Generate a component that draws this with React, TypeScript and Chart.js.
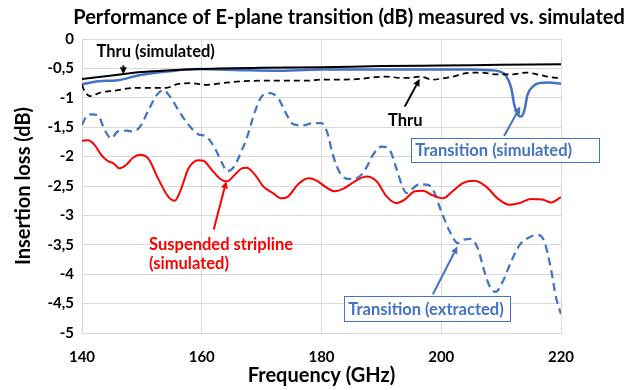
import React, { useEffect, useRef } from 'react';
import { Chart, registerables } from 'chart.js';

Chart.register(...registerables);

const FONT = 'Lato, "Open Sans", sans-serif';
const BLUE = '#4472C4';
const RED = '#FF0000';

// ---- Data (frequency in GHz, insertion loss in dB) ----
const thruSimFreq = [140, 145, 150, 155, 160, 170, 180, 190, 200, 210, 220];
const thruSimLoss = [-0.68, -0.62, -0.56, -0.53, -0.51, -0.49, -0.48, -0.46, -0.45, -0.44, -0.43];

const transSimFreq = [140, 142.7, 146, 149.4, 152.7, 156.1, 159.4, 162.8, 166.7, 172, 180, 190, 200, 205, 208, 209.7, 210.8, 211.7, 212.2, 212.8, 213.3, 213.9, 214.4, 215.3, 216.4, 218, 220];
const transSimLoss = [-0.77, -0.72, -0.70, -0.62, -0.57, -0.53, -0.51, -0.52, -0.53, -0.54, -0.52, -0.52, -0.52, -0.52, -0.53, -0.55, -0.62, -0.84, -1.12, -1.29, -1.32, -1.21, -0.95, -0.81, -0.75, -0.74, -0.76];

const thruFreq = [140, 140.4, 141.3, 143.2, 146, 148.8, 152.2, 154.1, 155.8, 158.3, 160.6, 163.4, 166.7, 169.7, 173, 177.5, 180, 183.1, 186.4, 188.6, 190.9, 193.1, 194.7, 196.4, 198.6, 200.3, 201.9, 204.2, 206.4, 209.2, 211.9, 214.2, 216.4, 219.2, 220];
const thruLoss = [-0.78, -0.88, -0.97, -0.91, -0.87, -0.83, -0.83, -0.83, -0.77, -0.75, -0.78, -0.75, -0.72, -0.71, -0.71, -0.71, -0.69, -0.69, -0.68, -0.65, -0.64, -0.66, -0.66, -0.64, -0.69, -0.67, -0.64, -0.58, -0.57, -0.60, -0.60, -0.57, -0.61, -0.66, -0.66];

const transExtFreq = [140, 140.7, 141.6, 142.7, 143.8, 144.9, 146, 147.4, 148.5, 149.7, 151.1, 152.5, 153.6, 154.7, 156.1, 157.8, 159.4, 160.8, 162.2, 163.4, 164.2, 165.4, 166.7, 167.5, 168.9, 170, 171.4, 172.8, 173.9, 175.3, 176.9, 178.6, 180, 180.9, 181.9, 183.1, 184.5, 185.8, 187.2, 188.6, 190, 191.4, 192.5, 193.4, 194.2, 195, 196.4, 197.8, 198.6, 200, 201.4, 202.8, 203.9, 205, 206.1, 207.2, 208.1, 209.1, 210.3, 211.7, 213.1, 214.4, 216.1, 217.2, 218.3, 219.2, 220];
const transExtLoss = [-1.46, -1.32, -1.28, -1.30, -1.55, -1.69, -1.57, -1.56, -1.57, -1.49, -1.21, -0.95, -0.87, -0.98, -1.21, -1.46, -1.62, -1.66, -1.86, -2.11, -2.25, -2.17, -1.89, -1.69, -1.23, -0.98, -0.92, -1.01, -1.23, -1.45, -1.47, -1.43, -1.43, -1.57, -1.97, -2.28, -2.38, -2.37, -2.24, -1.97, -1.83, -1.89, -2.20, -2.48, -2.62, -2.56, -2.47, -2.48, -2.56, -2.93, -3.27, -3.47, -3.41, -3.40, -3.56, -3.95, -4.21, -4.30, -4.12, -3.78, -3.50, -3.39, -3.33, -3.44, -3.90, -4.41, -4.68];

const stripFreq = [140, 141, 142.1, 143.2, 144.4, 145.2, 146.3, 147.4, 148.5, 149.7, 151.1, 152.7, 154.4, 155.5, 156.4, 157.8, 159.4, 160.3, 161.7, 163.1, 164.2, 165.6, 166.7, 167.5, 168.9, 170.3, 171.9, 173.3, 174.4, 176.1, 177.8, 179.2, 180.6, 182.2, 183.6, 185.6, 187.5, 189.2, 190.9, 192.5, 193.9, 195.6, 196.9, 198.6, 200.3, 201.9, 203.6, 205.6, 207.5, 209.4, 211.4, 213.1, 215, 216.9, 218.3, 220];
const stripLoss = [-1.73, -1.72, -1.80, -1.97, -2.08, -2.11, -2.20, -2.14, -2.02, -1.97, -2.04, -2.37, -2.68, -2.75, -2.59, -2.20, -2.06, -2.07, -2.23, -2.38, -2.42, -2.30, -2.20, -2.19, -2.31, -2.51, -2.62, -2.71, -2.68, -2.47, -2.37, -2.41, -2.51, -2.59, -2.55, -2.42, -2.34, -2.42, -2.68, -2.79, -2.73, -2.59, -2.58, -2.66, -2.71, -2.59, -2.45, -2.41, -2.51, -2.71, -2.82, -2.79, -2.72, -2.73, -2.78, -2.69];

const TITLE = 'Performance of E-plane transition (dB) measured vs. simulated';
const X_TITLE = 'Frequency (GHz)';
const Y_TITLE = 'Insertion loss (dB)';

// ---- Annotations (in data coordinates) ----
type Note =
  | { kind: 'text'; lines: string[]; x: number; y: number; color: string; align: CanvasTextAlign }
  | { kind: 'box'; text: string; x1: number; x2: number; y1: number; y2: number; color: string }
  | { kind: 'arrow'; x1: number; y1: number; x2: number; y2: number; color: string };

const notes: Note[] = [
  { kind: 'text', lines: ['Thru (simulated)'], x: 152.3, y: -0.216, color: '#000', align: 'center' },
  { kind: 'arrow', x1: 146.9, y1: -0.45, x2: 146.9, y2: -0.6, color: '#000' },
  { kind: 'text', lines: ['Thru'], x: 194.0, y: -1.395, color: '#000', align: 'center' },
  { kind: 'arrow', x1: 193.9, y1: -1.15, x2: 196.4, y2: -0.68, color: '#000' },
  { kind: 'box', text: 'Transition (simulated)', x1: 195.0, x2: 226.4, y1: -1.68, y2: -2.09, color: BLUE },
  { kind: 'arrow', x1: 210.5, y1: -1.65, x2: 213.2, y2: -1.15, color: BLUE },
  { kind: 'text', lines: ['Suspended stripline', '(simulated)'], x: 151.2, y: -3.49, color: RED, align: 'left' },
  { kind: 'arrow', x1: 162.0, y1: -3.24, x2: 164.1, y2: -2.42, color: RED },
  { kind: 'box', text: 'Transition (extracted)', x1: 183.8, x2: 211.45, y1: -4.37, y2: -4.80, color: BLUE },
  { kind: 'arrow', x1: 198.6, y1: -4.34, x2: 202.7, y2: -3.53, color: BLUE },
];

const pts = (f: number[], l: number[]) => f.map((x, i) => ({ x, y: l[i] }));

const annotatePlugin = {
  id: 'annotate',
  afterDraw(chart: any) {
    const { ctx, scales } = chart;
    const xs = scales.x;
    const ys = scales.y;
    const px = (v: number) => xs.getPixelForValue(v);
    const py = (v: number) => ys.getPixelForValue(v);
    ctx.save();
    // Title
    ctx.font = `bold 20px ${FONT}`;
    ctx.fillStyle = '#000';
    ctx.textAlign = 'center';
    ctx.textBaseline = 'middle';
    ctx.fillText(TITLE, 349, 18);

    for (const n of notes) {
      if (n.kind === 'text') {
        ctx.font = `bold 16.5px ${FONT}`;
        ctx.fillStyle = n.color;
        ctx.textAlign = n.align;
        ctx.textBaseline = 'middle';
        n.lines.forEach((t, i) => ctx.fillText(t, px(n.x), py(n.y) + i * 19.5));
      } else if (n.kind === 'box') {
        const x1 = px(n.x1), x2 = px(n.x2), y1 = py(n.y1), y2 = py(n.y2);
        ctx.fillStyle = '#fff';
        ctx.fillRect(x1, y1, x2 - x1, y2 - y1);
        ctx.strokeStyle = n.color;
        ctx.lineWidth = 1;
        ctx.strokeRect(Math.round(x1) + 0.5, Math.round(y1) + 0.5, Math.round(x2 - x1), Math.round(y2 - y1));
        ctx.font = `bold 16.5px ${FONT}`;
        ctx.fillStyle = n.color;
        ctx.textAlign = 'left';
        ctx.textBaseline = 'middle';
        ctx.fillText(n.text, x1 + 4, (y1 + y2) / 2 + 1);
      } else {
        const x1 = px(n.x1), y1 = py(n.y1), x2 = px(n.x2), y2 = py(n.y2);
        const ang = Math.atan2(y2 - y1, x2 - x1);
        const hl = 7, hw = 3.5;
        const bx = x2 - hl * Math.cos(ang), by = y2 - hl * Math.sin(ang);
        ctx.strokeStyle = n.color;
        ctx.fillStyle = n.color;
        ctx.lineWidth = 2;
        ctx.beginPath();
        ctx.moveTo(x1, y1);
        ctx.lineTo(bx, by);
        ctx.stroke();
        ctx.beginPath();
        ctx.moveTo(x2, y2);
        ctx.lineTo(bx + hw * Math.sin(ang), by - hw * Math.cos(ang));
        ctx.lineTo(bx - hw * Math.sin(ang), by + hw * Math.cos(ang));
        ctx.closePath();
        ctx.fill();
      }
    }
    ctx.restore();
  },
};

export default function App() {
  const ref = useRef<HTMLCanvasElement>(null);
  useEffect(() => {
    document.body.style.margin = '0';
    const lineBase = { pointRadius: 0, fill: false, cubicInterpolationMode: 'monotone' as const, borderJoinStyle: 'round' as const };
    const chart = new Chart(ref.current!, {
      type: 'line',
      data: {
        datasets: [
          { ...lineBase, label: 'Suspended stripline (simulated)', data: pts(stripFreq, stripLoss), borderColor: RED, borderWidth: 2 },
          { ...lineBase, label: 'Transition (extracted)', data: pts(transExtFreq, transExtLoss), borderColor: BLUE, borderWidth: 2.25, borderDash: [8, 5] },
          { ...lineBase, label: 'Thru', data: pts(thruFreq, thruLoss), borderColor: '#000', borderWidth: 1.75, borderDash: [6, 4] },
          { ...lineBase, label: 'Thru (simulated)', data: pts(thruSimFreq, thruSimLoss), borderColor: '#000', borderWidth: 2 },
          { ...lineBase, label: 'Transition (simulated)', data: pts(transSimFreq, transSimLoss), borderColor: BLUE, borderWidth: 2.5 },
        ],
      },
      options: {
        animation: false,
        responsive: false,
        layout: { padding: { top: 39, right: 80, left: 0, bottom: 0 } },
        plugins: { legend: { display: false }, tooltip: { enabled: false }, title: { display: false } },
        scales: {
          x: {
            type: 'linear',
            min: 140,
            max: 220,
            afterFit: (s: any) => { s.height = 57; },
            ticks: { stepSize: 20, padding: 15, color: '#000', font: { family: FONT, size: 15, weight: 'bold' } },
            grid: { color: '#d9d9d9', drawTicks: false },
            border: { color: '#d9d9d9' },
            title: { display: true, text: X_TITLE, color: '#000', font: { family: FONT, size: 20, weight: 'bold' }, padding: { top: 0, bottom: 2 } },
          },
          y: {
            type: 'linear',
            min: -5,
            max: 0,
            afterFit: (s: any) => { s.width = 82; },
            ticks: {
              stepSize: 0.5,
              padding: 8,
              color: '#000',
              font: { family: FONT, size: 15, weight: 'bold' },
              callback: (v: any) => String(Number(v)).replace('.', ','),
            },
            grid: { color: '#d9d9d9', drawTicks: false },
            border: { color: '#d9d9d9' },
            title: { display: true, text: Y_TITLE, color: '#000', font: { family: FONT, size: 20, weight: 'bold' }, padding: { top: 12, bottom: 0 } },
          },
        },
      },
      plugins: [annotatePlugin],
    });
    return () => chart.destroy();
  }, []);
  return (
    <div style={{ position: 'fixed', left: 0, top: 0, width: 641, height: 390 }}>
      <canvas ref={ref} width={641} height={390} style={{ width: 641, height: 390, display: 'block' }} />
    </div>
  );
}
